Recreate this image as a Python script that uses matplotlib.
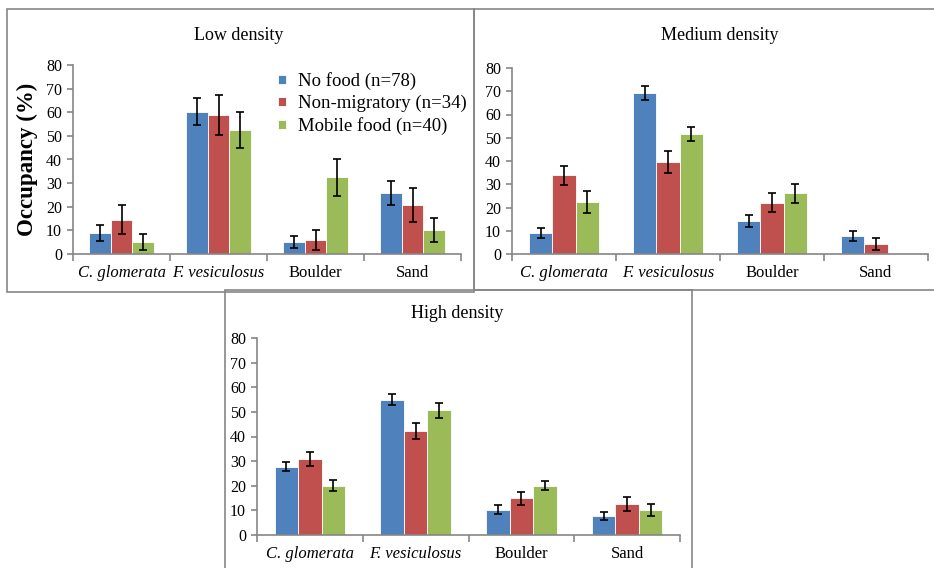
import matplotlib.pyplot as plt
import numpy as np
from matplotlib.patches import Rectangle

plt.rcParams['font.family'] = ['Liberation Serif', 'DejaVu Serif']

categories = ["C. glomerata", "F. vesiculosus", "Boulder", "Sand"]
series = ["No food (n=78)", "Non-migratory (n=34)", "Mobile food (n=40)"]
colors = ["#4F81BD", "#C0504D", "#9BBB59"]

# Low density
low_vals = [[9.0, 60.3, 5.1, 25.8],
            [14.6, 58.7, 6.0, 20.7],
            [5.1, 52.5, 32.4, 10.1]]
low_err = [[3.3, 5.6, 2.5, 5.0],
           [6.0, 8.4, 4.1, 7.2],
           [3.4, 7.8, 7.7, 5.0]]

# Medium density
med_vals = [[9.0, 69.4, 14.2, 7.7],
            [33.8, 39.6, 22.1, 4.3],
            [22.5, 51.5, 26.2, 0.0]]
med_err = [[2.2, 3.0, 2.6, 2.1],
           [4.2, 4.6, 4.1, 2.4],
           [4.7, 3.0, 4.1, 0.0]]

# High density
high_vals = [[27.8, 54.9, 10.2, 7.7],
             [30.9, 42.2, 14.9, 12.6],
             [20.1, 50.6, 20.1, 10.2]]
high_err = [[2.0, 2.3, 1.8, 1.6],
            [3.0, 3.3, 2.6, 2.8],
            [2.4, 2.9, 2.0, 2.5]]

W, H = 934, 568
fig = plt.figure(figsize=(W / 100, H / 100), dpi=100)
grey = "#868686"


def px_rect(x0, y0, x1, y1):
    # pixel box (top-left origin) -> figure fraction rect
    return [x0 / W, 1 - y1 / H, (x1 - x0) / W, (y1 - y0) / H]


# panel frames
for (x0, y0, x1, y1) in [(7, 9, 474, 292), (474, 9, 940, 290), (225, 290, 692, 575)]:
    fig.patches.append(Rectangle((x0 / W, 1 - y1 / H), (x1 - x0) / W, (y1 - y0) / H,
                                 transform=fig.transFigure, fill=False,
                                 edgecolor=grey, linewidth=1.2))


def panel(rect, vals, errs, title, title_y):
    ax = fig.add_axes(px_rect(*rect))
    x = np.arange(len(categories))
    bw = 0.223
    for i in range(3):
        v = np.array(vals[i])
        e = np.array(errs[i])
        mask = v > 0
        ax.bar(x[mask] + (i - 1) * bw, v[mask], width=bw, color=colors[i],
               edgecolor="white", linewidth=0.6, label=series[i], zorder=2)
        ax.errorbar(x[mask] + (i - 1) * bw, v[mask], yerr=e[mask], fmt="none",
                    ecolor="black", elinewidth=1.2, capsize=3, capthick=1.2, zorder=3)
    ax.set_xlim(-0.5, 3.5)
    ax.set_ylim(0, 80)
    ax.set_yticks(range(0, 81, 10))
    for s in ["top", "right"]:
        ax.spines[s].set_visible(False)
    for s in ["left", "bottom"]:
        ax.spines[s].set_color(grey)
        ax.spines[s].set_linewidth(1.2)
    ax.tick_params(axis="y", colors=grey, length=4, width=1.2, labelsize=11.5,
                   labelcolor="black", pad=4)
    ax.set_xticks(x)
    ax.set_xticklabels(categories, fontsize=12)
    for lab in ax.get_xticklabels()[:2]:
        lab.set_fontstyle("italic")
    ax.tick_params(axis="x", which="major", length=0, pad=8)
    ax.set_xticks(np.arange(-0.5, 4, 1), minor=True)
    ax.tick_params(axis="x", which="minor", length=5, width=1.2, colors=grey)
    fig.text(title[1] / W, 1 - title_y / H, title[0], ha="center", va="center", fontsize=13)
    return ax


ax1 = panel((73, 65, 461, 254), low_vals, low_err, ("Low density", 239), 35)
ax2 = panel((512, 68, 928, 254), med_vals, med_err, ("Medium density", 720), 35)
ax3 = panel((257, 338, 680, 535), high_vals, high_err, ("High density", 457), 313)

ax1.set_ylabel("Occupancy (%)", fontsize=16.5, fontweight="bold", labelpad=6)

leg = ax1.legend(loc="upper left", bbox_to_anchor=(0.51, 1.0), frameon=False,
                 fontsize=13.5, handlelength=0.4, handleheight=0.4,
                 handletextpad=0.65, labelspacing=0.25, borderaxespad=0)

fig.savefig("out.png", dpi=100)
